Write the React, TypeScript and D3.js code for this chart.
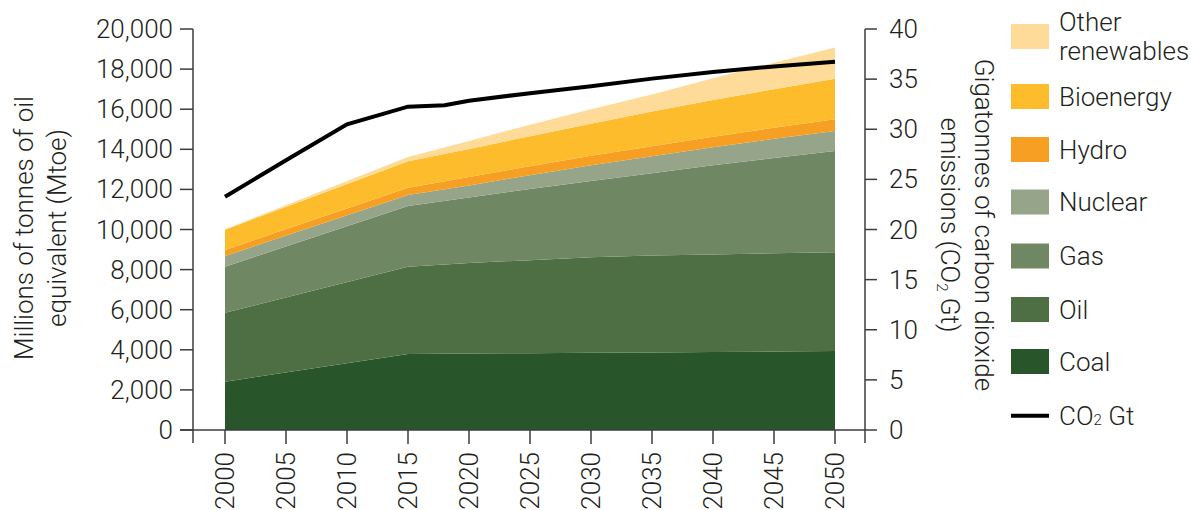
import React from 'react';
import * as d3 from 'd3';

// ---- data ----
const years = [2000, 2015, 2020, 2025, 2030, 2035, 2040, 2045, 2050];
const coal = [2410, 3790, 3810, 3830, 3850, 3870, 3890, 3910, 3940];
const oil = [3440, 4355, 4520, 4640, 4760, 4830, 4860, 4900, 4920];
const gas = [2295, 3030, 3270, 3550, 3810, 4100, 4450, 4760, 5055];
const nuclear = [535, 545, 600, 690, 780, 850, 900, 950, 1000];
const hydro = [300, 360, 420, 450, 480, 500, 520, 550, 585];
const bioenergy = [1010, 1320, 1400, 1490, 1600, 1730, 1840, 1930, 2020];
const otherRenewables = [20, 220, 400, 570, 720, 850, 1080, 1320, 1560];

const co2Years = [2000, 2005, 2010, 2015, 2018, 2020, 2025, 2030, 2035, 2040, 2045, 2050];
const co2Gt = [23.27, 26.9, 30.5, 32.25, 32.4, 32.85, 33.6, 34.3, 35.05, 35.7, 36.27, 36.74];

const xTicks = [2000, 2005, 2010, 2015, 2020, 2025, 2030, 2035, 2040, 2045, 2050];
const mtoeTicks = [0, 2000, 4000, 6000, 8000, 10000, 12000, 14000, 16000, 18000, 20000];
const gtTicks = [0, 5, 10, 15, 20, 25, 30, 35, 40];

const seriesKeys = ['coal', 'oil', 'gas', 'nuclear', 'hydro', 'bio', 'other'];
const seriesData: Record<string, number[]> = {
  coal, oil, gas, nuclear, hydro, bio: bioenergy, other: otherRenewables,
};
const colors: Record<string, string> = {
  coal: '#28562a',
  oil: '#4e6e44',
  gas: '#708764',
  nuclear: '#96a489',
  hydro: '#f69f22',
  bio: '#fdbc2b',
  other: '#fedb99',
};
const legendItems = [
  { key: 'other', label: ['Other', 'renewables'] },
  { key: 'bio', label: ['Bioenergy'] },
  { key: 'hydro', label: ['Hydro'] },
  { key: 'nuclear', label: ['Nuclear'] },
  { key: 'gas', label: ['Gas'] },
  { key: 'oil', label: ['Oil'] },
  { key: 'coal', label: ['Coal'] },
];

const FONT = 'Roboto, "Liberation Sans", Arial, sans-serif';
const FW = 300;
const FS = 26;
const TXT = '#231f20';
const AX = '#3c3c3c';

export default function App() {
  const x = d3.scaleLinear().domain([2000, 2050]).range([225, 835]);
  const yL = d3.scaleLinear().domain([0, 20000]).range([430, 29]);
  const yR = d3.scaleLinear().domain([0, 40]).range([430, 29]);

  const rows = years.map((yr, i) => {
    const r: any = { year: yr };
    seriesKeys.forEach((k) => (r[k] = seriesData[k][i]));
    return r;
  });
  const stacked = d3.stack().keys(seriesKeys)(rows);
  const area = d3
    .area<any>()
    .x((d) => x(d.data.year))
    .y0((d) => yL(d[0]))
    .y1((d) => yL(d[1]));
  const line = d3
    .line<number>()
    .x((_, i) => x(co2Years[i]))
    .y((d) => yR(d));
  const fmt = d3.format(',');

  const leftX = 193;
  const rightX = 865;
  const legendCenters = [36.5, 96.5, 149.5, 202, 256, 309.5, 361.5];

  return (
    <svg
      width={1192}
      height={510}
      style={{ position: 'absolute', left: 0, top: 0, display: 'block', background: '#fff' }}
      fontFamily={FONT}
      fontWeight={FW}
    >
      {stacked.map((s) => (
        <path key={s.key} d={area(s as any) || ''} fill={colors[s.key]} />
      ))}
      <path d={line(co2Gt) || ''} fill="none" stroke="#000" strokeWidth={4} strokeLinejoin="miter" />

      <g stroke={AX} strokeWidth={1.5} fill="none">
        <line x1={leftX} x2={leftX} y1={yL(20000)} y2={443} />
        <line x1={rightX} x2={rightX} y1={yR(40)} y2={443} />
        <line x1={180} x2={rightX} y1={yL(0)} y2={yL(0)} />
        {mtoeTicks.map((t) => (
          <line key={'lt' + t} x1={180} x2={leftX} y1={yL(t)} y2={yL(t)} />
        ))}
        {gtTicks.map((t) => (
          <line key={'rt' + t} x1={rightX} x2={877} y1={yR(t)} y2={yR(t)} />
        ))}
        {xTicks.map((t) => (
          <line key={'xt' + t} x1={x(t)} x2={x(t)} y1={yL(0)} y2={444} />
        ))}
      </g>

      <g fontSize={FS} fill={TXT}>
        {mtoeTicks.map((t) => (
          <text key={'ll' + t} x={173} y={yL(t)} textAnchor="end" dominantBaseline="central">
            {fmt(t)}
          </text>
        ))}
        {gtTicks.map((t) => (
          <text key={'rl' + t} x={889} y={yR(t)} textAnchor="start" dominantBaseline="central">
            {t}
          </text>
        ))}
        {xTicks.map((t) => (
          <text
            key={'xl' + t}
            transform={`translate(${x(t)},452) rotate(-90)`}
            textAnchor="end"
            dominantBaseline="central"
          >
            {t}
          </text>
        ))}
      </g>

      <g fontSize={FS} fill={TXT}>
        <text transform="translate(33,228) rotate(-90)" textAnchor="middle">
          Millions of tonnes of oil
        </text>
        <text transform="translate(66,228) rotate(-90)" textAnchor="middle">
          equivalent (Mtoe)
        </text>
        <text transform="translate(975,225) rotate(90)" textAnchor="middle">
          Gigatonnes of carbon dioxide
        </text>
        <text transform="translate(941,225) rotate(90)" textAnchor="middle">
          emissions (CO
          <tspan fontSize={15} dy={4}>2</tspan>
          <tspan dy={-4}> Gt)</tspan>
        </text>
      </g>

      <g fontSize={FS} fill={TXT}>
        {legendItems.map((it, i) => {
          const cy = legendCenters[i];
          return (
            <g key={it.key}>
              <rect x={1011} y={cy - 12.5} width={38} height={25} fill={colors[it.key]} />
              {it.label.length === 1 ? (
                <text x={1059} y={cy} dominantBaseline="central">
                  {it.label[0]}
                </text>
              ) : (
                it.label.map((l, j) => (
                  <text key={j} x={1059} y={cy - 14.5 + j * 29} dominantBaseline="central">
                    {l}
                  </text>
                ))
              )}
            </g>
          );
        })}
        <line x1={1011} x2={1049} y1={415.7} y2={415.7} stroke="#000" strokeWidth={4} />
        <text x={1059} y={415.7} dominantBaseline="central">
          CO<tspan fontSize={15} dy={4}>2</tspan>
          <tspan dy={-4}> Gt</tspan>
        </text>
      </g>
    </svg>
  );
}
